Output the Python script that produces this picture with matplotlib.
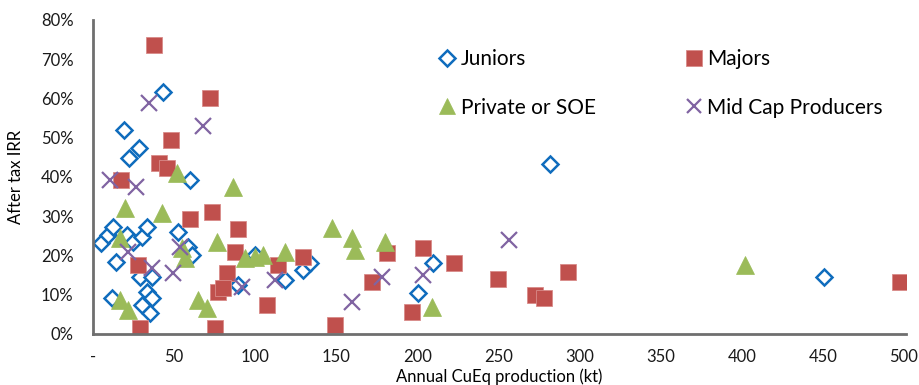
import matplotlib.pyplot as plt
import numpy as np

# annual CuEq production (kt) and after tax IRR (%) per company group
juniors_x = [4.7, 9.4, 12.5, 14.2, 20.8, 24.7, 30, 33.1, 29, 36.2, 52.6, 58.8, 60.9,
             11.5, 33.1, 36.2, 30, 35.1, 60, 19, 28.4, 22, 43, 282, 451,
             99.9, 89.4, 118.4, 129.5, 133.8, 200.4, 209.6]
juniors_y = [23.3, 25.2, 27.3, 18.4, 25.2, 23.5, 24.8, 27.3, 14.6, 14.6, 26.1, 22.2, 20.1,
             9.1, 10.8, 9.1, 7.4, 5.3, 39.2, 52, 47.4, 44.8, 61.7, 43.3, 14.5,
             20.1, 12.5, 13.8, 16.3, 18.1, 10.4, 18.1]

majors_x = [37.6, 72.1, 17.3, 48, 40.9, 45.4, 73.4, 59.8, 89.4, 27.9, 29,
            87.5, 82.4, 77.3, 80, 107, 75.2, 114.3, 129.7, 149.2, 171.8, 181,
            203.7, 196.5, 222.6, 249.9, 272.5, 278.3, 293, 497.5]
majors_y = [73.6, 60.1, 39.2, 49.4, 43.6, 42.2, 31.1, 29.3, 26.8, 17.6, 1.4,
            21, 15.5, 10.8, 11.7, 7.4, 1.4, 17.6, 19.7, 2.3, 13.3, 20.6,
            21.8, 5.7, 18, 14, 9.9, 9.1, 15.7, 13.3]

private_x = [19.7, 42.4, 51.6, 16.6, 54.7, 56.7, 16.6, 21.8, 64.9, 70.1, 86.5,
             76.2, 93.7, 99.9, 105, 118.4, 147.2, 159.5, 161.5, 180, 208.8, 401.9]
private_y = [32, 30.7, 40.9, 24.4, 21.8, 19.3, 8.7, 6.1, 8.7, 6.5, 37.5,
             23.4, 19.3, 19.7, 20.1, 21, 26.9, 24.4, 21.4, 23.5, 7, 17.6]

midcap_x = [34.7, 67.6, 10.5, 26.5, 21.8, 36.2, 49.5, 53.6, 91.7, 112.2,
            159.5, 178, 203.7, 256.7]
midcap_y = [58.9, 53, 39.2, 37.5, 21, 16.7, 15.5, 22.2, 12, 13.8,
            8.2, 14.6, 15, 23.9]

x_ticks = [0, 50, 100, 150, 200, 250, 300, 350, 400, 450, 500]
x_labels = ['-'] + [str(v) for v in x_ticks[1:]]
y_ticks = [0, 10, 20, 30, 40, 50, 60, 70, 80]

plt.rcParams['font.family'] = ['Lato', 'DejaVu Sans']

fig = plt.figure(figsize=(9.19, 3.85), dpi=100)
ax = fig.add_axes([0.1012, 0.1325, 0.8842, 0.8156])

jun, = ax.plot(juniors_x, juniors_y, 'D', ms=8.6, mfc='white', mec='#0F6CBD', mew=1.8,
               ls='none', label='Juniors')
maj, = ax.plot(majors_x, majors_y, 's', ms=12, mfc='#C0504D', mec='#D98B89', mew=0.6,
               ls='none', label='Majors')
pri, = ax.plot(private_x, private_y, '^', ms=12.5, mfc='#9BBB59', mec='#9BBB59', mew=0.5,
               ls='none', label='Private or SOE')
mid, = ax.plot(midcap_x, midcap_y, 'x', ms=11, mec='#8064A2', mew=1.6,
               ls='none', label='Mid Cap Producers')

ax.set_xlim(0, 501)
ax.set_ylim(0, 80)
ax.set_xticks(x_ticks)
ax.set_xticklabels(x_labels)
ax.set_yticks(y_ticks)
ax.set_yticklabels([f'{v}%' for v in y_ticks])
ax.tick_params(length=0, labelsize=12, colors='#1a1a1a')
ax.tick_params(axis='x', pad=11)
ax.tick_params(axis='y', pad=14)

for side in ['top', 'right']:
    ax.spines[side].set_visible(False)
for side in ['left', 'bottom']:
    ax.spines[side].set_color('#6f6f6f')
    ax.spines[side].set_linewidth(2)

ax.set_xlabel('Annual CuEq production (kt)', fontsize=12, labelpad=2)
ax.set_ylabel('After tax IRR', fontsize=12, labelpad=12)

# legend filled column by column, so list the handles to read row-wise
ax.legend([jun, pri, maj, mid], ['Juniors', 'Private or SOE', 'Majors', 'Mid Cap Producers'],
          ncol=2, frameon=False, fontsize=15, loc='upper left',
          bbox_to_anchor=(0.40, 0.966), columnspacing=4.2, handletextpad=0.15,
          handlelength=1.0, labelspacing=1.35, markerscale=0.95)

fig.savefig('out.png', dpi=100)
